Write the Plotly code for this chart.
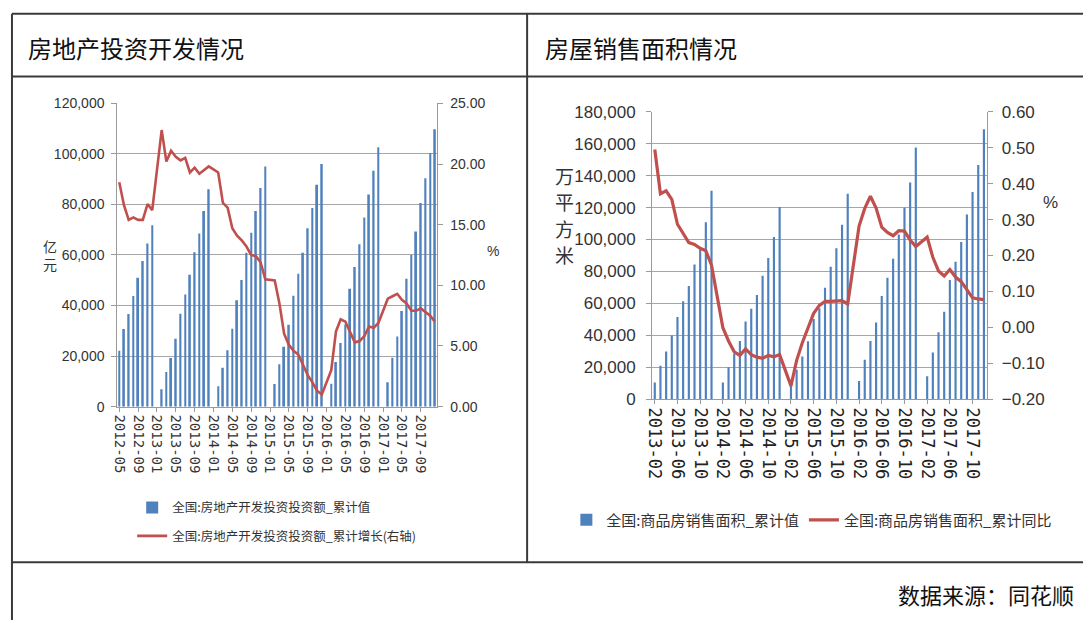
import plotly.graph_objects as go

W, H = 1083, 630


def fx(px):
    return px / W


def fy(py):
    return 1 - py / H


def month_range(y0, m0, y1, m1):
    out = []
    y, m = y0, m0
    while (y, m) <= (y1, m1):
        out.append(f"{y}-{m:02d}")
        m += 1
        if m > 12:
            m = 1
            y += 1
    return out


# ---------------- data ----------------
invest_months = month_range(2012, 5, 2017, 12)
invest_value = [
    22100, 30700, 36700, 43800, 51000, 57600, 64600, 71800,
    None, 6900, 13700, 19200, 26900, 36800, 44400, 52200, 61100, 68500, 77400, 86000,
    None, 8100, 15400, 22300, 30800, 42100, 50100, 60900, 68800, 77400, 86500, 95000,
    None, 9000, 16800, 23700, 32400, 43900, 52600, 60900, 70600, 78600, 87800, 96000,
    None, 9100, 17700, 25200, 32500, 46600, 55300, 64300, 74800, 83900, 93300, 102600,
    None, 9700, 19300, 27800, 37800, 50600, 60000, 69300, 80600, 90400, 100400, 109800,
]
invest_growth = [
    18.5, 16.6, 15.4, 15.6, 15.4, 15.4, 16.7, 16.2,
    None, 22.8, 20.2, 21.1, 20.6, 20.3, 20.5, 19.3, 19.7, 19.2, 19.5, 19.8,
    None, 19.3, 16.8, 16.4, 14.7, 14.1, 13.7, 13.2, 12.5, 12.4, 11.9, 10.5,
    None, 10.4, 8.5, 6.0, 5.1, 4.6, 4.3, 3.5, 2.6, 2.0, 1.3, 1.0,
    None, 3.0, 6.2, 7.2, 7.0, 6.1, 5.3, 5.4, 5.8, 6.6, 6.5, 6.9,
    None, 8.9, 9.1, 9.3, 8.8, 8.5, 7.9, 7.9, 8.1, 7.8, 7.5, 7.0,
]
invest_ticks = invest_months[::4]

sales_months = month_range(2013, 2, 2017, 12)
sales_area = [
    10500, 20900, 29800, 39900, 51400, 61300, 70900, 84400, 94600, 110800, 130600,
    None, 10500, 20000, 28500, 36400, 48600, 56700, 65200, 77300, 88500, 101600, 120300,
    None, 11000, 18500, 26700, 36300, 50200, 57000, 69800, 83000, 94600, 109300, 128600,
    None, 11300, 24700, 36400, 48000, 64600, 76100, 87900, 103100, 119900, 135700, 157700,
    None, 14400, 29200, 41900, 54700, 74700, 86100, 98400, 115600, 129800, 146600, 169100,
]
sales_yoy = [
    0.495, 0.372, 0.380, 0.356, 0.287, 0.260, 0.236, 0.231, 0.220, 0.213, 0.173,
    None, -0.001, -0.038, -0.068, -0.078, -0.060, -0.076, -0.083, -0.086, -0.078, -0.082, -0.076,
    None, -0.163, -0.092, -0.043, -0.002, 0.039, 0.061, 0.072, 0.072, 0.072, 0.074, 0.065,
    None, 0.282, 0.331, 0.365, 0.332, 0.279, 0.264, 0.255, 0.269, 0.268, 0.243, 0.225,
    None, 0.251, 0.195, 0.157, 0.143, 0.161, 0.140, 0.127, 0.103, 0.082, 0.079, 0.077,
]
sales_ticks = sales_months[::4]

left_title = "房地产投资开发情况"
right_title = "房屋销售面积情况"
source_text = "数据来源：同花顺"
left_unit = ["亿", "元"]
right_unit = ["万", "平", "方", "米"]
names = {
    "inv_val": "全国:房地产开发投资投资额_累计值",
    "inv_gr": "全国:房地产开发投资投资额_累计增长(右轴)",
    "sal_val": "全国:商品房销售面积_累计值",
    "sal_gr": "全国:商品房销售面积_累计同比",
}

# ---------------- styles ----------------
BLUE = "#4F81BD"
RED = "#C0504D"
GRID = "#A6A6A6"
AXIS = "#9A9A9A"
TXT = "#333333"
CJK = "Noto Sans CJK SC, Noto Sans, sans-serif"
NARROW = "Liberation Sans Narrow, Liberation Sans, Arial, sans-serif"
MONO = "DejaVu Sans Mono, monospace"

fig = go.Figure()

fig.add_trace(go.Bar(
    x=invest_months, y=invest_value, name=names["inv_val"],
    marker=dict(color=BLUE, line=dict(width=0)), width=0.38,
    xaxis="x", yaxis="y", legend="legend", legendgroup="a",
))
fig.add_trace(go.Scatter(
    x=invest_months, y=invest_growth, name=names["inv_gr"], mode="lines",
    line=dict(color=RED, width=2.6), connectgaps=True,
    xaxis="x", yaxis="y2", legend="legend", legendgroup="b",
))
fig.add_trace(go.Bar(
    x=sales_months, y=sales_area, name=names["sal_val"],
    marker=dict(color=BLUE, line=dict(width=0)), width=0.38,
    xaxis="x2", yaxis="y3", legend="legend2",
))
fig.add_trace(go.Scatter(
    x=sales_months, y=sales_yoy, name=names["sal_gr"], mode="lines",
    line=dict(color=RED, width=3.2), connectgaps=True,
    xaxis="x2", yaxis="y4", legend="legend2",
))

# plot areas (pixels)
L = dict(x0=111, x1=433.3, y0=97.3, y1=410)
R = dict(x0=649.3, x1=986.7, y0=106, y1=402.3)

common_x = dict(
    type="category", tickangle=90, ticks="outside", ticklen=4, tickcolor=AXIS,
    showline=True, linecolor=AXIS, linewidth=1, showgrid=False, zeroline=False,
    tickmode="array",
)
common_y = dict(
    ticks="outside", ticklen=5, tickcolor=AXIS, showline=True, linecolor=AXIS,
    linewidth=1, zeroline=False,
)

fig.update_layout(
    width=W, height=H, margin=dict(l=0, r=0, t=0, b=0),
    paper_bgcolor="white", plot_bgcolor="white",
    barmode="overlay", showlegend=True,
    xaxis=dict(
        **common_x, domain=[fx(L["x0"]), fx(L["x1"])], anchor="y",
        categoryorder="array", categoryarray=invest_months,
        range=[-0.42, 67.55], tickvals=invest_ticks, ticktext=invest_ticks,
        tickfont=dict(family=MONO, size=14, color=TXT),
    ),
    yaxis=dict(
        **common_y, domain=[fy(L["y1"]), fy(L["y0"])], anchor="x",
        range=[0, 120000], dtick=20000, tickformat=",",
        showgrid=True, gridcolor=GRID, gridwidth=1,
        tickfont=dict(family=NARROW, size=14, color=TXT), ticklabelstandoff=4,
    ),
    yaxis2=dict(
        **common_y, overlaying="y", side="right", anchor="x",
        range=[0, 25], dtick=5, tickformat=".2f", showgrid=False,
        tickfont=dict(family=NARROW, size=14, color=TXT), ticklabelstandoff=4,
    ),
    xaxis2=dict(
        **common_x, domain=[fx(R["x0"]), fx(R["x1"])], anchor="y3",
        categoryorder="array", categoryarray=sales_months,
        range=[-0.47, 58.6], tickvals=sales_ticks, ticktext=sales_ticks,
        tickfont=dict(family=MONO, size=17, color="#222222"),
    ),
    yaxis3=dict(
        **common_y, domain=[fy(R["y1"]), fy(R["y0"])], anchor="x2",
        range=[0, 180000], dtick=20000, tickformat=",",
        showgrid=True, gridcolor=GRID, gridwidth=1,
        tickfont=dict(family=NARROW, size=17, color=TXT), ticklabelstandoff=7,
    ),
    yaxis4=dict(
        **common_y, overlaying="y3", side="right", anchor="x2",
        range=[-0.2, 0.6], dtick=0.1, tickformat=".2f", showgrid=False,
        tickfont=dict(family=NARROW, size=17, color=TXT), ticklabelstandoff=5,
    ),
    legend=dict(
        x=fx(126), y=fy(499), xanchor="left", yanchor="top", orientation="v",
        font=dict(family=CJK, size=12.5, color=TXT), tracegroupgap=9,
        bgcolor="rgba(0,0,0,0)", itemwidth=30,
    ),
    legend2=dict(
        x=fx(563), y=fy(510), xanchor="left", yanchor="top", orientation="h",
        font=dict(family=CJK, size=15, color=TXT),
        bgcolor="rgba(0,0,0,0)", itemwidth=30,
    ),
)

# table frame
LINE = dict(color="#3A3A3A", width=2)
frame = [
    (5, 5, W, 5),          # top
    (5, 5, 5, H),          # left
    (5, 69.5, W, 69.5),    # under titles
    (523.5, 5, 523.5, 570.5),  # middle divider
    (5, 570.5, W, 570.5),  # above source
]
for x0, y0, x1, y1 in frame:
    fig.add_shape(type="line", xref="paper", yref="paper",
                  x0=fx(x0), y0=fy(y0), x1=fx(x1), y1=fy(y1), line=LINE)

ann = [
    dict(text=left_title, x=fx(19), y=fy(40), xanchor="left", yanchor="middle",
         font=dict(family=CJK, size=24, color="#111111")),
    dict(text=right_title, x=fx(539), y=fy(40), xanchor="left", yanchor="middle",
         font=dict(family=CJK, size=24, color="#111111")),
    dict(text=source_text, x=fx(1076), y=fy(603), xanchor="right", yanchor="middle",
         font=dict(family=CJK, size=22, color="#111111")),
    dict(text="%", x=fx(489), y=fy(250), xanchor="center", yanchor="middle",
         font=dict(family=NARROW, size=14, color=TXT)),
    dict(text="%", x=fx(1050), y=fy(200), xanchor="center", yanchor="middle",
         font=dict(family=NARROW, size=17, color=TXT)),
]
for ch, yy in zip(left_unit, [244, 263]):
    ann.append(dict(text=ch, x=fx(43), y=fy(yy), xanchor="center", yanchor="middle",
                    font=dict(family=CJK, size=14, color=TXT)))
for ch, yy in zip(right_unit, [172, 199, 226, 253]):
    ann.append(dict(text=ch, x=fx(561), y=fy(yy), xanchor="center", yanchor="middle",
                    font=dict(family=CJK, size=19, color=TXT)))
for a in ann:
    fig.add_annotation(xref="paper", yref="paper", showarrow=False, **a)

fig.write_html("out.html")
